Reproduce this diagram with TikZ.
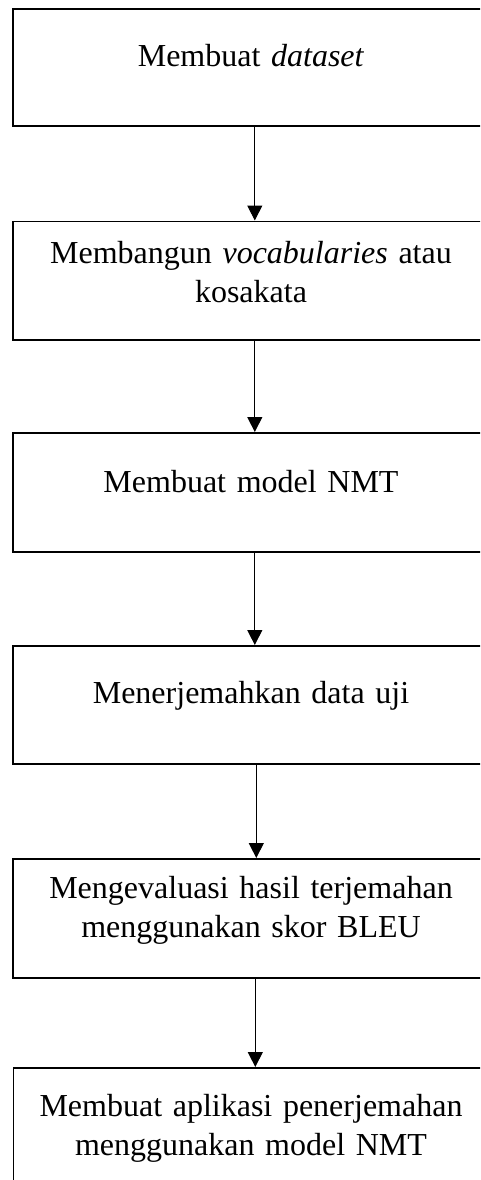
\documentclass[tikz,border=0pt]{standalone}
\usepackage{fontspec}
\setmainfont{Liberation Serif}
\usetikzlibrary{arrows.meta}

\begin{document}
\begin{tikzpicture}[x=1pt,y=-1pt,
  box/.style={draw=black, line width=1.6pt, fill=none, inner sep=0pt,
    minimum width=478pt, anchor=north west},
  label/.style={inner sep=0pt, text width=470pt, align=center, anchor=base,
    font=\fontsize{32}{39}\selectfont},
  flow/.style={draw=black, line width=1pt, -{Triangle[length=15pt,width=15pt]}}]

  % page area
  \clip (0,0) rectangle (480,1180);
  \fill[white] (0,0) rectangle (480,1180);

  % process boxes
  \node[box, minimum height=117pt]   (b1) at (12,8)      {};
  \node[box, minimum height=118.5pt] (b2) at (12,220.5)  {};
  \node[box, minimum height=119pt]   (b3) at (12,432)    {};
  \node[box, minimum height=118pt]   (b4) at (12,645)    {};
  \node[box, minimum height=119pt]   (b5) at (12,858)    {};
  \node[box, minimum height=140pt]   (b6) at (12.5,1067) {};

  % box texts
  \node[label] (t1) at (251,67)   {Membuat \textit{dataset}};
  \node[label] (t2) at (251,263)  {Membangun \textit{vocabularies} atau\\kosakata};
  \node[label] (t3) at (251,492)  {Membuat model NMT};
  \node[label] (t4) at (251,703)  {Menerjemahkan data uji};
  \node[label] (t5) at (251,898)  {Mengevaluasi hasil terjemahan\\menggunakan skor BLEU};
  \node[label] (t6) at (251,1116) {Membuat aplikasi penerjemahan\\menggunakan model NMT};

  % flow arrows
  \draw[flow] ([xshift=3pt]b1.south) -- ([xshift=3pt]b2.north);
  \draw[flow] ([xshift=3pt]b2.south) -- ([xshift=3pt]b3.north);
  \draw[flow] ([xshift=3pt]b3.south) -- ([xshift=3pt]b4.north);
  \draw[flow] ([xshift=4.5pt]b4.south) -- ([xshift=4.5pt]b5.north);
  \draw[flow] ([xshift=3.5pt]b5.south) -- ([xshift=3pt]b6.north);
\end{tikzpicture}
\end{document}
